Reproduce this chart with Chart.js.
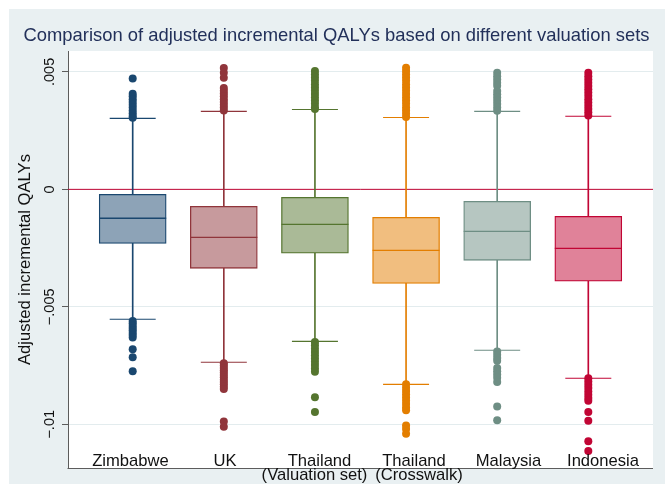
<!DOCTYPE html>
<html>
<head>
<meta charset="utf-8">
<script src="https://cdn.jsdelivr.net/npm/chart.js@4.4.1/dist/chart.umd.min.js"></script>
<style>
  html, body { margin: 0; padding: 0; background: #fff; }
  canvas { display: block; }
</style>
</head>
<body>
<canvas id="chart" width="665" height="484"></canvas>
<script>
// valuation sets, left to right
const categories = ['Zimbabwe', 'UK', 'Thailand', 'Thailand', 'Malaysia', 'Indonesia'];
const subLabels = ['', '', '(Valuation set)', '(Crosswalk)', '', ''];

// box statistics
const upperAdj = [0.00302, 0.00332, 0.00340, 0.00306, 0.00332, 0.00311];
const q3 = [-0.00021, -0.00072, -0.00034, -0.00119, -0.00051, -0.00115];
const medians = [-0.00123, -0.00204, -0.00149, -0.00260, -0.00179, -0.00251];
const q1 = [-0.00230, -0.00336, -0.00272, -0.00400, -0.00302, -0.00391];
const lowerAdj = [-0.00553, -0.00736, -0.00647, -0.00830, -0.00685, -0.00804];

// outside values per category
const outliers = [
    [0.00472, 0.00407, 0.00396, 0.00384, 0.00372, 0.0036, 0.00348, 0.00336, 0.00324, 0.00312, 0.00305,
     -0.0056, -0.0057, -0.0058, -0.0059, -0.006, -0.0061, -0.0062, -0.0063, -0.0068, -0.00715, -0.00774],
    [0.00517, 0.00496, 0.00475, 0.00432, 0.0042, 0.00408, 0.00396, 0.00384, 0.00372, 0.0036, 0.00348, 0.00336,
     -0.0074, -0.0075, -0.0076, -0.0077, -0.0078, -0.0079, -0.008, -0.0081, -0.0082, -0.0083, -0.0084, -0.0085, -0.00988, -0.0101],
    [0.00504, 0.0049, 0.00476, 0.00462, 0.00448, 0.00434, 0.0042, 0.00406, 0.00392, 0.00378, 0.00364, 0.0035, 0.00342,
     -0.0065, -0.00664, -0.00678, -0.00692, -0.00706, -0.0072, -0.00734, -0.00748, -0.00762, -0.00776, -0.00885, -0.00948],
    [0.00518, 0.00504, 0.0049, 0.00476, 0.00462, 0.00448, 0.00434, 0.0042, 0.00406, 0.00392, 0.00378, 0.00364, 0.0035, 0.00336, 0.00322, 0.00308,
     -0.0083, -0.00844, -0.00858, -0.00872, -0.00886, -0.009, -0.00914, -0.00928, -0.0094, -0.01005, -0.0102, -0.0104],
    [0.00496, 0.00482, 0.00468, 0.00454, 0.00441, 0.00419, 0.00405, 0.00391, 0.00377, 0.00363, 0.00349, 0.00335,
     -0.0069, -0.00704, -0.00718, -0.0073, -0.0076, -0.00774, -0.00788, -0.00802, -0.0082, -0.00924, -0.00983],
    [0.00496, 0.00482, 0.00468, 0.00454, 0.0044, 0.00426, 0.00412, 0.00398, 0.00384, 0.0037, 0.00356, 0.00342, 0.00328, 0.00314,
     -0.00804, -0.00818, -0.00832, -0.00846, -0.0086, -0.00874, -0.00888, -0.009, -0.00948, -0.00985, -0.01072, -0.01114]
];

const yTickValues = [0.005, 0, -0.005, -0.01];
const yTickLabels = ['.005', '0', '\u2212.005', '\u2212.01'];

// stata s2color palette and its 50% tints
const lineColors = ['#1a476f', '#90353b', '#55752f', '#e37e00', '#6e8e84', '#c10534'];
const fillColors = ['#8da3b7', '#c79a9d', '#aaba97', '#f1be7f', '#b6c6c1', '#e08299'];

const FONT = '"Liberation Sans", Arial, Helvetica, sans-serif';
const pos = categories.map((c, i) => i + 1);

const datasets = [];

// whiskers (full range, boxes cover the middle)
datasets.push({
    type: 'bar',
    data: pos.map((x, i) => ({ x: x, y: [lowerAdj[i], upperAdj[i]] })),
    backgroundColor: lineColors,
    borderWidth: 0,
    barThickness: 1,
    grouped: false,
    order: 3
});

// boxes
datasets.push({
    type: 'bar',
    data: pos.map((x, i) => ({ x: x, y: [q1[i], q3[i]] })),
    backgroundColor: fillColors,
    borderColor: lineColors,
    borderWidth: 1.3,
    borderSkipped: false,
    barThickness: 67,
    grouped: false,
    order: 2
});

// medians
datasets.push({
    type: 'line',
    showLine: false,
    data: pos.map((x, i) => ({ x: x, y: medians[i] })),
    pointStyle: 'line',
    pointRadius: 33.5,
    pointBorderWidth: 1.3,
    pointBorderColor: lineColors,
    order: 1
});

// whisker caps
datasets.push({
    type: 'line',
    showLine: false,
    data: pos.map((x, i) => ({ x: x, y: upperAdj[i] })).concat(pos.map((x, i) => ({ x: x, y: lowerAdj[i] }))),
    pointStyle: 'line',
    pointRadius: 23,
    pointBorderWidth: 1.1,
    pointBorderColor: lineColors.concat(lineColors),
    order: 1
});

// outside values
outliers.forEach((vals, i) => {
    datasets.push({
        type: 'line',
        showLine: false,
        data: vals.map(v => ({ x: pos[i], y: v })),
        pointRadius: 4,
        pointBorderWidth: 0,
        pointBackgroundColor: lineColors[i],
        order: 0
    });
});

const decor = {
    id: 'stataDecor',
    beforeDraw(chart) {
        const ctx = chart.ctx, a = chart.chartArea;
        ctx.save();
        ctx.fillStyle = '#ffffff';
        ctx.fillRect(0, 0, chart.width, chart.height);
        ctx.fillStyle = '#e9f0f2';
        ctx.fillRect(9, 9, chart.width - 9, chart.height - 9);
        ctx.fillStyle = '#ffffff';
        ctx.fillRect(a.left, a.top, a.right - a.left, a.bottom - a.top);
        ctx.restore();
    },
    beforeDatasetsDraw(chart) {
        const ctx = chart.ctx, a = chart.chartArea;
        const y0 = chart.scales.y.getPixelForValue(0);
        ctx.save();
        ctx.strokeStyle = '#c10534';
        ctx.lineWidth = 1;
        ctx.beginPath();
        ctx.moveTo(a.left, y0);
        ctx.lineTo(a.right, y0);
        ctx.stroke();
        ctx.restore();
    },
    afterDraw(chart) {
        const ctx = chart.ctx, a = chart.chartArea;
        const ys = chart.scales.y;
        ctx.save();
        // bottom axis line
        ctx.strokeStyle = '#5c5c5c';
        ctx.lineWidth = 1;
        ctx.beginPath();
        ctx.moveTo(a.left - 0.5, a.bottom + 0.5);
        ctx.lineTo(a.right, a.bottom + 0.5);
        ctx.stroke();

        // title
        ctx.fillStyle = '#22305a';
        ctx.font = '18.4px ' + FONT;
        ctx.textAlign = 'center';
        ctx.textBaseline = 'alphabetic';
        ctx.fillText('Comparison of adjusted incremental QALYs based on different valuation sets', 336.5, 41);

        // y tick labels, rotated
        ctx.fillStyle = '#111';
        ctx.font = '14.5px ' + FONT;
        yTickValues.forEach((v, i) => {
            ctx.save();
            ctx.translate(54, ys.getPixelForValue(v));
            ctx.rotate(-Math.PI / 2);
            ctx.fillText(yTickLabels[i], 0, 0);
            ctx.restore();
        });

        // y axis title
        ctx.font = '16.6px ' + FONT;
        ctx.save();
        ctx.translate(30, (a.top + a.bottom) / 2);
        ctx.rotate(-Math.PI / 2);
        ctx.fillText('Adjusted incremental QALYs', 0, 0);
        ctx.restore();

        // box labels: stata spreads them evenly along the bottom, a bit wider than the boxes
        const step = 94.5;
        categories.forEach((c, i) => {
            const x = 130.5 + i * step;
            ctx.fillText(c, x, 466);
            if (subLabels[i]) {
                const shift = i === 2 ? -5 : 5;
                ctx.fillText(subLabels[i], x + shift, 480);
            }
        });
        ctx.restore();
    }
};

new Chart(document.getElementById('chart'), {
    data: { datasets: datasets },
    options: {
        responsive: false,
        animation: false,
        events: [],
        layout: { autoPadding: false, padding: { left: 62, top: 51, right: 12, bottom: 16 } },
        plugins: { legend: { display: false }, tooltip: { enabled: false }, title: { display: false } },
        scales: {
            x: { type: 'linear', display: false, offset: false, min: 0.29, max: 6.71 },
            y: {
                type: 'linear',
                min: -0.01186,
                max: 0.00589,
                afterBuildTicks: s => { s.ticks = yTickValues.map(v => ({ value: v })); },
                afterFit: s => { s.width = 6; },
                ticks: { display: false },
                grid: { color: '#e3ecee', tickColor: '#5c5c5c', drawTicks: true, tickLength: 6, lineWidth: 1 },
                border: { display: true, color: '#5c5c5c', width: 1 }
            }
        }
    },
    plugins: [decor]
});
</script>
</body>
</html>
